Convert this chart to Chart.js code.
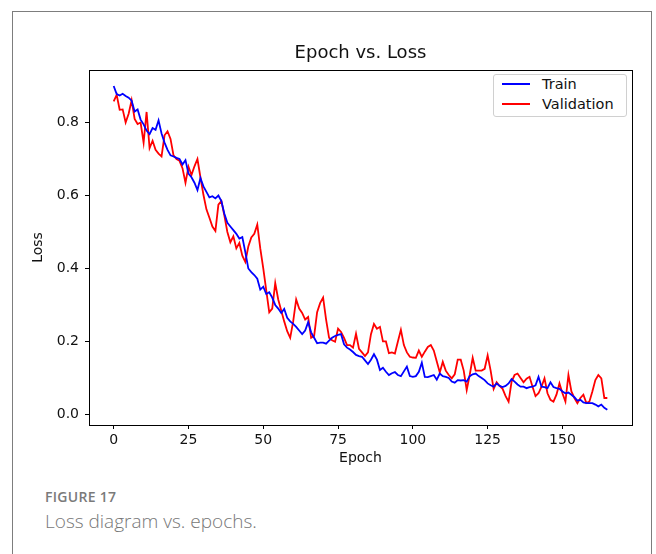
<!DOCTYPE html>
<html>
<head>
<meta charset="utf-8">
<script src="https://cdn.jsdelivr.net/npm/chart.js@4"></script>
<style>
    body { margin: 0; background: #fff; width: 656px; height: 554px; overflow: hidden; position: relative; font-family: "DejaVu Sans", sans-serif; }
    #frame { position: absolute; left: 12px; top: 11px; width: 640px; height: 600px; border: 1.5px solid #7d7d7d; box-sizing: border-box; }
    #wrap { position: absolute; left: 0; top: 0; width: 656px; height: 480px; }
    #title { position: absolute; left: 89px; width: 543px; top: 41px; text-align: center; font-size: 18px; line-height: 21px; color: #111; }
    #legend { position: absolute; left: 493px; top: 74px; width: 134px; height: 43px; border: 1px solid #d0d0d0; border-radius: 3px; background: #fff; box-sizing: border-box; font-size: 14.5px; color: #111; }
    .item { position: absolute; left: 8px; height: 14px; line-height: 14px; }
    .swatch { position: absolute; left: 0; top: 6px; width: 28px; height: 2px; }
    .item span { position: absolute; left: 40px; white-space: nowrap; }
    #fig { position: absolute; left: 45px; top: 487px; font-family: "Open Sans", sans-serif; font-size: 14px; line-height: 19px; letter-spacing: 0.3px; font-weight: 600; color: #7a7a7a; }
    #caption { position: absolute; left: 45px; top: 508px; font-family: "Open Sans", sans-serif; font-size: 19px; line-height: 26px; font-weight: 300; color: #777; }
</style>
</head>
<body>
<div id="frame"></div>
<div id="wrap"><canvas id="chart" width="656" height="480"></canvas></div>
<div id="title">Epoch vs. Loss</div>
<div id="legend">
    <div class="item" style="top:2px"><div class="swatch" style="background:#0000ff"></div><span>Train</span></div>
    <div class="item" style="top:22px"><div class="swatch" style="background:#ff0000"></div><span>Validation</span></div>
</div>
<div id="fig">FIGURE 17</div>
<div id="caption">Loss diagram vs. epochs.</div>
<script>
const trainLoss = [
    0.900, 0.878, 0.874, 0.879, 0.873, 0.868, 0.860, 0.830, 0.836, 0.808,
    0.795, 0.778, 0.768, 0.785, 0.780, 0.806, 0.770, 0.745, 0.725, 0.710,
    0.707, 0.703, 0.700, 0.685, 0.697, 0.660, 0.650, 0.635, 0.615, 0.648,
    0.625, 0.610, 0.595, 0.598, 0.592, 0.600, 0.585, 0.550, 0.525, 0.515,
    0.505, 0.495, 0.482, 0.486, 0.445, 0.400, 0.390, 0.382, 0.372, 0.342,
    0.350, 0.330, 0.335, 0.320, 0.300, 0.290, 0.278, 0.289, 0.265, 0.255,
    0.248, 0.240, 0.230, 0.220, 0.230, 0.253, 0.225, 0.210, 0.195, 0.197,
    0.197, 0.194, 0.202, 0.210, 0.215, 0.218, 0.220, 0.192, 0.183, 0.178,
    0.171, 0.163, 0.160, 0.158, 0.148, 0.138, 0.150, 0.165, 0.150, 0.122,
    0.128, 0.117, 0.108, 0.113, 0.116, 0.108, 0.105, 0.118, 0.131, 0.105,
    0.103, 0.105, 0.117, 0.142, 0.103, 0.102, 0.105, 0.108, 0.095, 0.112,
    0.105, 0.103, 0.100, 0.090, 0.087, 0.094, 0.093, 0.094, 0.090, 0.105,
    0.110, 0.112, 0.105, 0.100, 0.094, 0.085, 0.080, 0.076, 0.085, 0.078,
    0.075, 0.078, 0.085, 0.097, 0.090, 0.082, 0.076, 0.076, 0.072, 0.075,
    0.076, 0.080, 0.103, 0.076, 0.075, 0.072, 0.088, 0.075, 0.072, 0.070,
    0.063, 0.058, 0.060, 0.054, 0.047, 0.038, 0.040, 0.033, 0.031, 0.031,
    0.031, 0.027, 0.022, 0.027, 0.018, 0.013
];
const valLoss = [
    0.858, 0.876, 0.835, 0.836, 0.800, 0.824, 0.861, 0.810, 0.796, 0.800,
    0.745, 0.829, 0.730, 0.750, 0.725, 0.715, 0.707, 0.765, 0.776, 0.755,
    0.710, 0.700, 0.695, 0.675, 0.635, 0.679, 0.656, 0.680, 0.700, 0.650,
    0.602, 0.562, 0.539, 0.515, 0.503, 0.575, 0.585, 0.545, 0.500, 0.472,
    0.488, 0.455, 0.470, 0.435, 0.418, 0.460, 0.485, 0.495, 0.520, 0.455,
    0.400, 0.340, 0.280, 0.290, 0.360, 0.315, 0.285, 0.255, 0.228, 0.210,
    0.255, 0.315, 0.290, 0.278, 0.260, 0.267, 0.210, 0.215, 0.280, 0.305,
    0.320, 0.260, 0.210, 0.203, 0.199, 0.235, 0.226, 0.210, 0.190, 0.190,
    0.183, 0.221, 0.180, 0.170, 0.160, 0.170, 0.220, 0.248, 0.235, 0.240,
    0.200, 0.200, 0.168, 0.170, 0.167, 0.200, 0.232, 0.190, 0.170, 0.158,
    0.156, 0.155, 0.175, 0.158, 0.172, 0.185, 0.190, 0.175, 0.145, 0.115,
    0.144, 0.120, 0.108, 0.099, 0.110, 0.150, 0.150, 0.120, 0.067, 0.108,
    0.155, 0.120, 0.120, 0.120, 0.125, 0.162, 0.120, 0.070, 0.088, 0.078,
    0.070, 0.050, 0.035, 0.090, 0.108, 0.112, 0.100, 0.088, 0.098, 0.103,
    0.076, 0.050, 0.058, 0.076, 0.099, 0.058, 0.040, 0.035, 0.054, 0.085,
    0.058, 0.035, 0.108, 0.063, 0.045, 0.031, 0.045, 0.054, 0.031, 0.035,
    0.063, 0.094, 0.108, 0.099, 0.045, 0.045
];
const epochs = trainLoss.map((v, i) => i);
const xTicks = [0, 25, 50, 75, 100, 125, 150];
const yTicks = [0.0, 0.2, 0.4, 0.6, 0.8];

// full box around the plot, like matplotlib spines
const frameBox = {
    id: 'frameBox',
    afterDraw(chart) {
        const a = chart.chartArea;
        const ctx = chart.ctx;
        ctx.save();
        ctx.strokeStyle = '#000';
        ctx.lineWidth = 1;
        ctx.strokeRect(a.left + 0.5, a.top + 0.5, a.right - a.left, a.bottom - a.top);
        ctx.restore();
    }
};

const tickFont = { family: 'DejaVu Sans', size: 14 };

new Chart(document.getElementById('chart'), {
    type: 'line',
    data: {
        labels: epochs,
        datasets: [
            { label: 'Train', data: trainLoss, borderColor: '#0000ff', borderWidth: 1.8, pointRadius: 0, tension: 0 },
            { label: 'Validation', data: valLoss, borderColor: '#ff0000', borderWidth: 1.8, pointRadius: 0, tension: 0 }
        ]
    },
    options: {
        responsive: false,
        animation: false,
        events: [],
        layout: { padding: { left: 28, top: 70, right: 24, bottom: 11 } },
        plugins: { legend: { display: false }, title: { display: false }, tooltip: { enabled: false } },
        scales: {
            x: {
                type: 'linear',
                min: -8.25,
                max: 173.25,
                afterFit(s) { s.height = 44; },
                afterBuildTicks(s) { s.ticks = xTicks.map(v => ({ value: v })); },
                ticks: { font: tickFont, color: '#111', padding: 3, maxRotation: 0 },
                grid: { drawOnChartArea: false, drawTicks: true, tickLength: 4, color: '#000' },
                border: { display: false },
                title: { display: true, text: 'Epoch', font: tickFont, color: '#111', padding: { top: 2, bottom: 2 } }
            },
            y: {
                min: -0.029,
                max: 0.944,
                afterFit(s) { s.width = 61; },
                afterBuildTicks(s) { s.ticks = yTicks.map(v => ({ value: v })); },
                ticks: { font: tickFont, color: '#111', padding: 6, callback: v => v.toFixed(1) },
                grid: { drawOnChartArea: false, drawTicks: true, tickLength: 4, color: '#000' },
                border: { display: false },
                title: { display: true, text: 'Loss', font: tickFont, color: '#111', padding: { top: 2, bottom: 2 } }
            }
        }
    },
    plugins: [frameBox]
});
</script>
</body>
</html>
